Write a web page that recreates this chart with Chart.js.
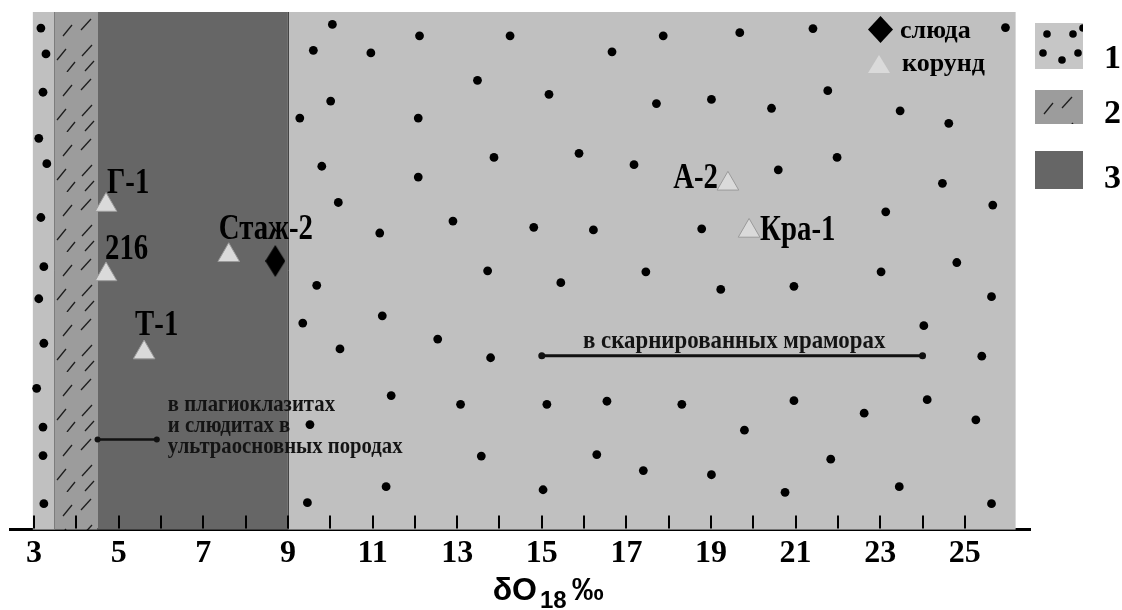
<!DOCTYPE html>
<html>
<head>
<meta charset="utf-8">
<script src="https://cdn.jsdelivr.net/npm/chart.js@4.4.0/dist/chart.umd.min.js"></script>
<style>
  html, body { margin: 0; padding: 0; background: #fff; }
  #chart { display: block; }
</style>
</head>
<body>
<canvas id="chart" width="1122" height="610"></canvas>
<script>
// zones along the δO18 axis
const bandStart = [2.97, 3.47, 4.5, 9.0];
const bandEnd = [3.47, 4.5, 9.0, 26.2];
const bandType = ['1', '2', '3', '1'];
const legendNames = ['1', '2', '3'];

// background dots of zone 1
const dotX = [
  3.16, 3.28, 3.21, 3.11, 3.30, 3.16, 3.23, 3.11, 3.23, 3.06, 3.21, 3.21, 3.23,
  10.05, 9.60, 10.96, 12.11, 14.25, 16.66, 13.48, 15.17, 17.71, 10.01, 9.28, 12.08,
  9.80, 12.08, 13.87, 15.88, 17.18, 10.19, 12.90, 11.17, 14.81, 16.22, 13.72, 17.46,
  9.68, 15.45, 9.35, 11.23, 12.54, 10.23, 13.79, 11.44, 13.08, 15.12, 16.54, 9.52,
  13.57, 16.30, 17.40, 11.32, 9.46, 15.03,
  17.87, 19.68, 21.41, 25.96, 19.01, 20.43, 21.76, 23.47, 24.62, 21.98, 20.59, 24.47,
  25.66, 23.13, 18.78, 24.81, 23.02,
  19.23, 20.96, 25.63, 24.03, 25.40, 18.31, 20.96, 22.62, 24.11, 25.26, 19.79, 21.83,
  19.01, 20.75, 23.45, 25.63
];
const dotY = [
  96.9, 91.9, 84.5, 75.6, 70.7, 60.3, 50.8, 44.6, 36.0, 27.3, 19.8, 14.3, 5.0,
  97.6, 92.6, 92.1, 95.4, 95.4, 92.3, 86.8, 84.1, 82.3, 82.8, 79.5, 79.5,
  70.2, 68.1, 71.9, 72.7, 70.5, 63.2, 59.6, 57.3, 58.4, 57.9, 50.0, 49.8,
  47.2, 47.7, 39.9, 41.3, 36.8, 34.9, 33.2, 25.9, 24.2, 24.2, 24.8, 20.3,
  14.2, 14.5, 11.4, 8.3, 5.2, 7.7,
  95.4, 96.0, 96.8, 97.0, 83.1, 81.4, 84.8, 80.9, 78.5, 71.9, 69.5, 66.9,
  62.7, 61.4, 58.1, 51.6, 49.8,
  46.4, 47.0, 45.0, 39.4, 33.5, 24.2, 24.9, 22.5, 25.1, 21.2, 19.2, 13.6,
  10.6, 7.2, 8.3, 5.0
];

// samples
const corundumNames = ['Г-1', '216', 'Стаж-2', 'Т-1', 'А-2', 'Кра-1'];
const corundumX = [4.7, 4.7, 7.6, 5.6, 19.4, 19.9];
const corundumY = [62.7, 49.3, 53.0, 34.2, 66.8, 57.7];
const micaX = [8.7];
const micaY = [51.9];

// ranges
const ultrabasicX = [4.5, 5.9];
const ultrabasicY = 17.4;
const ultrabasicText = ['в плагиоклазитах', 'и слюдитах в', 'ультраосновных породах'];
const marbleX = [15.0, 24.0];
const marbleY = 33.6;
const marbleText = 'в скарнированных мраморах';

const xTickValues = [3, 4, 5, 6, 7, 8, 9, 10, 11, 12, 13, 14, 15, 16, 17, 18, 19, 20, 21, 22, 23, 24, 25];
const xTickLabels = ['3', '', '5', '', '7', '', '9', '', '11', '', '13', '', '15', '', '17', '', '19', '', '21', '', '23', '', '25'];

const SERIF = '"Liberation Serif", "Times New Roman", serif';
const SANS = '"Liberation Sans", Arial, sans-serif';

// slash strokes for the hatched zone
const hatchStrokes = [
  [9, 24, 18, 13], [27, 18, 37, 7], [3, 48, 12, 37], [28, 44, 38, 33],
  [13, 60, 21, 50], [31, 59, 40, 49]
];

function makeHatchTile() {
  const c = document.createElement('canvas');
  c.width = 44; c.height = 60;
  const g = c.getContext('2d');
  g.fillStyle = '#9c9c9c';
  g.fillRect(0, 0, 44, 60);
  g.strokeStyle = '#1e1e1e';
  g.lineWidth = 1.3;
  hatchStrokes.forEach(s => {
    g.beginPath(); g.moveTo(s[0], s[1]); g.lineTo(s[2], s[3]); g.stroke();
  });
  return c;
}
const hatchTile = makeHatchTile();

function makeDiamond(w, h) {
  const c = document.createElement('canvas');
  c.width = w; c.height = h;
  const g = c.getContext('2d');
  g.fillStyle = '#000';
  g.beginPath();
  g.moveTo(w / 2, 0); g.lineTo(w, h / 2); g.lineTo(w / 2, h); g.lineTo(0, h / 2);
  g.closePath(); g.fill();
  return c;
}
const micaMarker = makeDiamond(20, 32);

function hatchFill(ctx, ox, oy) {
  const p = ctx.createPattern(hatchTile, 'repeat');
  p.setTransform(new DOMMatrix([1, 0, 0, 1, ox, oy]));
  return p;
}

function zoneFill(ctx, type, ox, oy) {
  if (type === '2') return hatchFill(ctx, ox, oy);
  if (type === '3') return '#666666';
  return '#c0c0c0';
}

function text(ctx, str, x, y, size, sx, align, family) {
  ctx.save();
  ctx.font = 'bold ' + size + 'px ' + (family || SERIF);
  ctx.textAlign = align || 'left';
  ctx.textBaseline = 'alphabetic';
  ctx.translate(x, y);
  ctx.scale(sx, 1);
  ctx.fillText(str, 0, 0);
  ctx.restore();
}

// where each sample name sits relative to its marker
const nameOffsets = [
  [1, -12, 'left'], [-1, -15, 'left'], [-10, -16, 'left'],
  [-9, -18, 'left'], [-10, 4, 'right'], [11, 9, 'left']
];

const figurePlugin = {
  id: 'figure',
  beforeDatasetsDraw(chart) {
    const { ctx, scales: { x, y } } = chart;
    const top = y.getPixelForValue(100);
    const bottom = y.getPixelForValue(0);
    ctx.save();
    bandStart.forEach((s, i) => {
      const l = x.getPixelForValue(s);
      const r = x.getPixelForValue(bandEnd[i]);
      ctx.fillStyle = zoneFill(ctx, bandType[i], l, top);
      ctx.fillRect(l, top, r - l, bottom - top);
    });
    ctx.lineWidth = 1;
    ctx.strokeStyle = '#7c7c7c';
    let px = Math.round(x.getPixelForValue(bandStart[1])) + 0.5;
    ctx.beginPath(); ctx.moveTo(px, top); ctx.lineTo(px, bottom); ctx.stroke();
    ctx.strokeStyle = '#454545';
    px = Math.round(x.getPixelForValue(bandStart[3])) + 0.5;
    ctx.beginPath(); ctx.moveTo(px, top); ctx.lineTo(px, bottom); ctx.stroke();
    ctx.restore();
  },
  afterDatasetsDraw(chart) {
    const { ctx, scales: { x, y } } = chart;
    ctx.save();
    ctx.fillStyle = '#000';
    corundumNames.forEach((name, i) => {
      const o = nameOffsets[i];
      text(ctx, name, x.getPixelForValue(corundumX[i]) + o[0],
        y.getPixelForValue(corundumY[i]) + o[1], 36, 0.8, o[2]);
    });

    ctx.fillStyle = '#141414';
    const ux = x.getPixelForValue(ultrabasicX[1]) + 11;
    const uy = y.getPixelForValue(ultrabasicY);
    text(ctx, ultrabasicText[0], ux, uy - 29, 23, 0.9);
    text(ctx, ultrabasicText[1], ux, uy - 8, 23, 0.9);
    text(ctx, ultrabasicText[2], ux, uy + 13, 23, 0.9);

    const mx = (x.getPixelForValue(marbleX[0]) + x.getPixelForValue(marbleX[1])) / 2 + 2;
    text(ctx, marbleText, mx, y.getPixelForValue(marbleY) - 8, 26, 0.88, 'center');
    ctx.restore();
  },
  afterDraw(chart) {
    const { ctx, chartArea, scales: { x } } = chart;
    const bottom = chartArea.bottom;
    ctx.save();
    // inward tick marks
    ctx.strokeStyle = '#000';
    ctx.lineWidth = 2;
    xTickValues.forEach(v => {
      const px = Math.round(x.getPixelForValue(v));
      ctx.beginPath(); ctx.moveTo(px, bottom - 1); ctx.lineTo(px, bottom - 14); ctx.stroke();
    });

    // inner legend
    ctx.fillStyle = '#000';
    ctx.beginPath();
    ctx.moveTo(880.5, 16); ctx.lineTo(893, 29.5); ctx.lineTo(880.5, 43); ctx.lineTo(868, 29.5);
    ctx.closePath(); ctx.fill();
    ctx.fillStyle = '#dadada';
    ctx.beginPath();
    ctx.moveTo(879, 55); ctx.lineTo(890, 73); ctx.lineTo(868, 73);
    ctx.closePath(); ctx.fill();
    ctx.fillStyle = '#000';
    text(ctx, 'слюда', 900, 38, 26, 1);
    text(ctx, 'корунд', 902, 71, 26, 1);

    // zone legend
    const boxes = [[23, 69], [90, 124], [151, 189]];
    legendNames.forEach((name, i) => {
      const [t, b] = boxes[i];
      ctx.fillStyle = name === '1' ? '#c6c6c6' : zoneFill(ctx, name, 1035, t);
      ctx.fillRect(1035, t, 48, b - t);
      if (name === '1') {
        ctx.save();
        ctx.beginPath(); ctx.rect(1035, t, 48, b - t); ctx.clip();
        ctx.fillStyle = '#000';
        [[1047, 34], [1073, 34], [1083, 28], [1043, 53], [1062, 60], [1078, 53]].forEach(d => {
          ctx.beginPath(); ctx.arc(d[0], d[1], 3.8, 0, Math.PI * 2); ctx.fill();
        });
        ctx.restore();
      }
      ctx.fillStyle = '#000';
      text(ctx, name, 1104, b - 1, 34, 1);
    });

    // axis title δO18 ‰
    ctx.fillStyle = '#000';
    ctx.font = 'bold 32px ' + SANS;
    const w1 = ctx.measureText('δO').width;
    ctx.font = 'bold 24px ' + SANS;
    const w2 = ctx.measureText('18').width;
    ctx.font = 'bold 32px ' + SANS;
    const w3 = ctx.measureText('‰').width;
    let tx = x.getPixelForValue(15.15) - (w1 + w2 + w3 + 8) / 2;
    text(ctx, 'δO', tx, 600, 32, 1, 'left', SANS);
    tx += w1 + 3;
    text(ctx, '18', tx, 608, 24, 1, 'left', SANS);
    tx += w2 + 5;
    text(ctx, '‰', tx, 600, 32, 1, 'left', SANS);
    ctx.restore();
  }
};

const pts = (xs, ys) => xs.map((v, i) => ({ x: v, y: Array.isArray(ys) ? ys[i] : ys }));

new Chart(document.getElementById('chart'), {
  type: 'scatter',
  data: {
    datasets: [
      {
        label: 'zone1',
        data: pts(dotX, dotY),
        pointRadius: 4.4,
        pointHoverRadius: 4.4,
        pointBackgroundColor: '#000',
        pointBorderWidth: 0
      },
      {
        label: 'ultrabasic',
        data: pts(ultrabasicX, ultrabasicY),
        showLine: true,
        borderColor: '#111',
        borderWidth: 2.5,
        pointRadius: 3,
        pointBackgroundColor: '#111',
        pointBorderWidth: 0
      },
      {
        label: 'marble',
        data: pts(marbleX, marbleY),
        showLine: true,
        borderColor: '#111',
        borderWidth: 3,
        pointRadius: 3.5,
        pointBackgroundColor: '#111',
        pointBorderWidth: 0
      },
      {
        label: 'корунд',
        data: pts(corundumX, corundumY),
        pointStyle: 'triangle',
        pointRadius: 12.5,
        pointHoverRadius: 12.5,
        pointBackgroundColor: '#dadada',
        pointBorderColor: '#9a9a9a',
        pointBorderWidth: 1
      },
      {
        label: 'слюда',
        data: pts(micaX, micaY),
        pointStyle: micaMarker,
        pointRadius: 16
      }
    ]
  },
  options: {
    responsive: false,
    animation: false,
    events: [],
    layout: { autoPadding: false, padding: { top: 12, left: 10, right: 92, bottom: 32 } },
    plugins: {
      legend: { display: false },
      tooltip: { enabled: false }
    },
    scales: {
      x: {
        type: 'linear',
        min: 2.43,
        max: 26.54,
        afterBuildTicks: (scale) => { scale.ticks = xTickValues.map(v => ({ value: v })); },
        grid: { display: false, drawTicks: false },
        border: { display: true, color: '#000', width: 3 },
        ticks: {
          autoSkip: false,
          maxRotation: 0,
          padding: 5,
          color: '#000',
          font: { family: SERIF, size: 32, weight: 'bold' },
          callback: (v, i) => xTickLabels[i]
        }
      },
      y: {
        type: 'linear',
        min: 0,
        max: 100,
        display: false
      }
    }
  },
  plugins: [figurePlugin]
});
</script>
</body>
</html>
